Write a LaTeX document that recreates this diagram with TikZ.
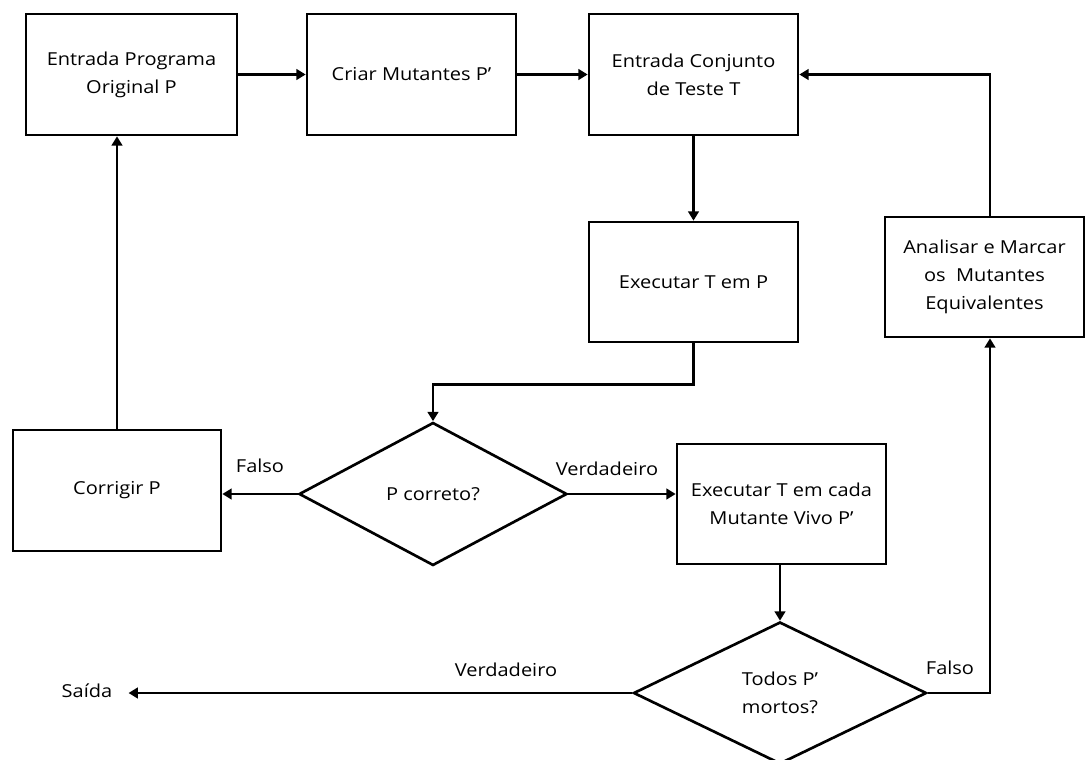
\documentclass[tikz,border=0pt]{standalone}
\usepackage{fontspec}
\setmainfont[FakeStretch=1.12]{Open Sans}
\usetikzlibrary{arrows.meta,shapes.geometric,calc}
\begin{document}
\begin{tikzpicture}[x=0.75pt,y=-0.75pt,
  every node/.style={font=\fontsize{13.4}{21}\selectfont,inner sep=0pt},
  procbox/.style={draw,line width=2pt,rectangle,align=center,
    minimum width=156.75pt,minimum height=90pt},
  decision/.style={draw,line width=2pt,diamond,align=center},
  conn/.style={line width=1.8pt,-{Triangle[length=7pt,width=8pt]}},
  lbl/.style={}]
\useasboundingbox (0,0) rectangle (1086,760);

% process boxes
\node[procbox,minimum width=158.25pt,minimum height=90.75pt] (entrada) at (131.5,74.5) {Entrada Programa\\Original P};
\node[procbox,minimum height=90.75pt] (criar) at (411.5,74.5) {Criar Mutantes P’};
\node[procbox,minimum height=90.75pt] (conj) at (693.5,74.5) {Entrada Conjunto\\de Teste T};
\node[procbox] (execp) at (693.5,282) {Executar T em P};
\node[procbox,minimum width=149.25pt] (anal) at (984.5,277) {Analisar e Marcar\\os~~Mutantes\\Equivalentes};
\node[procbox,minimum width=156pt,minimum height=90.75pt] (corr) at (117,490.5) {Corrigir P};
\node[procbox] (execm) at (781.5,504) {Executar T em cada\\Mutante Vivo P’};

% decisions
\node[decision,minimum width=201pt,minimum height=107.25pt] (pcor) at (433,494) {P correto?};
\node[decision,minimum width=219.75pt,minimum height=106.5pt] (todos) at (780,693) {Todos P’\\mortos?};

% exit
\node (saida) at (87,691) {Saída};
\coordinate (xr) at (990,0);

% connectors
\draw[conn] (entrada.east) -- (criar.west);
\draw[conn] (criar.east) -- (conj.west);
\draw[conn] (conj.south) -- (execp.north);
\draw[conn] (execp.south) -- ++(0,41) -| (pcor.north);
\draw[conn] (pcor.west) -- (pcor.west -| corr.east);
\draw[conn] (pcor.east) -- (pcor.east -| execm.west);
\draw[conn] (corr.north) -- (corr.north |- entrada.south);
\draw[conn] (execm.south -| todos.north) -- (todos.north);
\draw[conn] (todos.east) -| (anal.south -| xr);
\draw[conn] (anal.north -| xr) |- (conj.east);
\draw[conn] (todos.west) -- ($(todos.west -| saida.east)+(16,0)$);

% branch labels
\node[lbl] (f1) at (260,466) {Falso};
\node[lbl] (v1) at (607,469) {Verdadeiro};
\node[lbl] (f2) at (950,668) {Falso};
\node[lbl] (v2) at (506,670) {Verdadeiro};
\end{tikzpicture}
\end{document}
